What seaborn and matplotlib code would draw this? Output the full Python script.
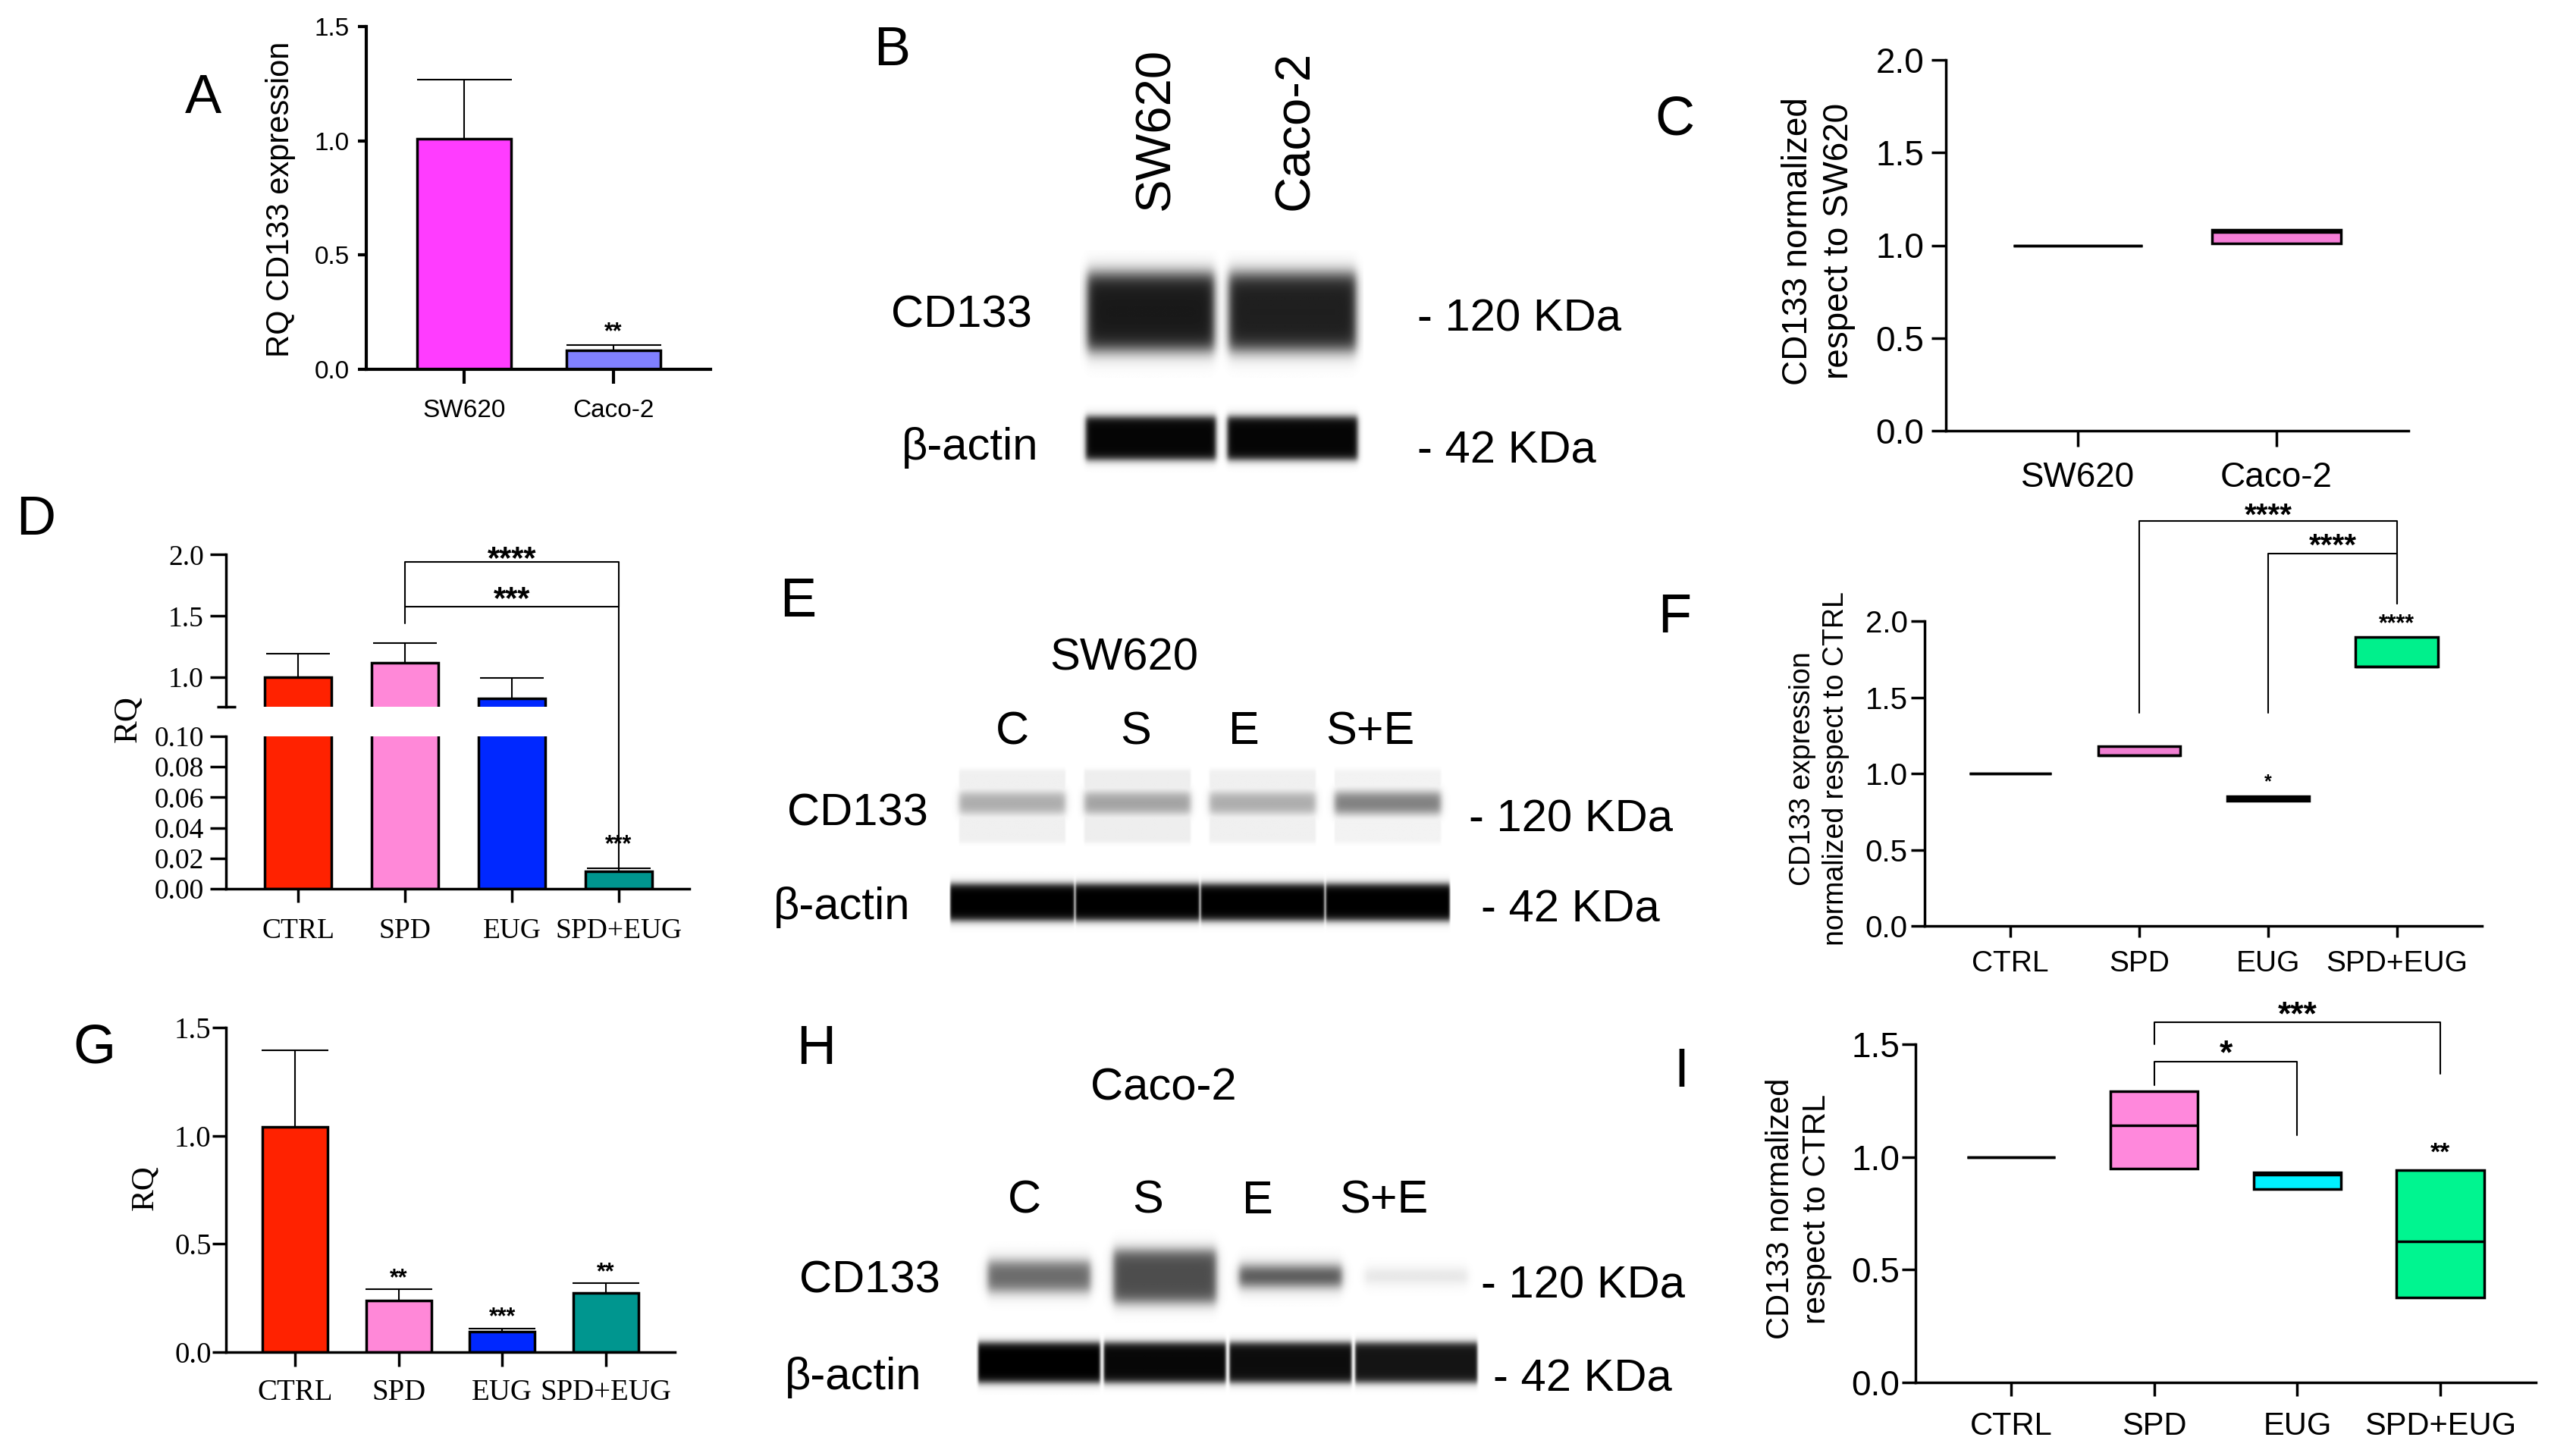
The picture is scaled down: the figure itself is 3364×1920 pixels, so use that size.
import numpy as np
import pandas as pd
import matplotlib
matplotlib.use("Agg")
import matplotlib.pyplot as plt
from matplotlib.colors import LinearSegmentedColormap
from matplotlib.patches import ConnectionPatch
from matplotlib.ticker import FormatStrFormatter
import seaborn as sns

# ---- values ----
lines = ["SW620", "Caco-2"]
a_rq = [1.01, 0.083]
a_top = [1.268, 0.106]          # top of SD bar
a_colors = ["#ff3cff", "#8080ff"]
a_sig = ["", "**"]

groups = ["CTRL", "SPD", "EUG", "SPD+EUG"]
bar_colors = ["#ff2200", "#ff88d8", "#0028ff", "#00968f"]

d_rq = [1.0, 1.12, 0.83, 0.0115]
d_top = [1.19, 1.28, 0.995, 0.0134]
d_sig = ["", "", "", "***"]

g_rq = [1.04, 0.24, 0.096, 0.273]
g_top = [1.395, 0.29, 0.11, 0.32]
g_sig = ["", "**", "***", "**"]

# floating bars: min, line, max
c_lo = [1.0, 1.01]
c_mid = [1.0, 1.07]
c_hi = [1.0, 1.085]
c_colors = ["white", "#f57fd8"]

f_lo = [1.0, 1.12, 0.82, 1.70]
f_mid = [1.0, 1.12, 0.835, 1.70]
f_hi = [1.0, 1.18, 0.85, 1.895]
f_colors = ["white", "#f07fd2", "#00e5f5", "#00f08c"]
f_sig = ["", "", "*", "****"]

i_lo = [1.0, 0.95, 0.856, 0.376]
i_mid = [1.0, 1.14, 0.92, 0.627]
i_hi = [1.0, 1.292, 0.93, 0.943]
i_colors = ["white", "#ff88dc", "#00f0ff", "#00f590"]
i_sig = ["", "", "", "**"]

# western blots: band darkness, 0 = white, 1 = black
b_cd133 = [0.90, 0.88]
b_actin = [0.98, 0.98]
lanes = ["C", "S", "E", "S+E"]
e_bg = [0.06, 0.07, 0.06, 0.05]
e_cd133 = [0.34, 0.38, 0.34, 0.52]
e_actin = [1.0, 1.0, 1.0, 1.0]
h_cd133 = [0.60, 0.70, 0.74, 0.15]
h_actin = [1.0, 0.97, 0.95, 0.92]

# ---- layout ----
W, H, DPI = 3364, 1920, 100
SANS = "Liberation Sans"
SERIF = "Liberation Serif"

sns.set_style("ticks", rc={"axes.edgecolor": "black", "xtick.color": "black",
                           "ytick.color": "black", "text.color": "black"})
plt.rcParams["font.family"] = [SANS, "DejaVu Sans"]

fig = plt.figure(figsize=(W / DPI, H / DPI), dpi=DPI)


def box(x0, y0, x1, y1):
    return [x0 / W, 1 - y1 / H, (x1 - x0) / W, (y1 - y0) / H]


def ftext(x, y, s, fs, ha="center", family=SANS):
    # y = centre of the capitals, pixels from the top
    fig.text(x / W, 1 - (y + 0.36 * fs * DPI / 72) / H, s, fontsize=fs, ha=ha,
             va="baseline", family=family)


def ylab(x, y, s, fs, family=SANS, ls=1.3):
    fig.text(x / W, 1 - y / H, s, fontsize=fs, rotation=90, ha="center", va="center",
             multialignment="center", linespacing=ls, family=family)


def star(ax, x, y, s, fs, dy=0):
    if s:
        ax.annotate(s, (x, y), xytext=(0, dy - 0.58 * fs), textcoords="offset points",
                    ha="center", va="baseline", fontsize=fs, fontweight="bold",
                    family=SANS, annotation_clip=False)


def bracket(ax, x0, x1, y, y0, y1):
    ax.plot([x0, x0, x1, x1], [y0, y, y, y1], color="black", lw=1.5, clip_on=False)


def prism(ax, fs, xlen, ylen, xpad, ypad, family=SANS, lw=2.5):
    sns.despine(ax=ax)
    ax.spines["left"].set_linewidth(lw)
    ax.spines["bottom"].set_linewidth(lw)
    ax.tick_params(axis="y", length=ylen, width=lw, labelsize=fs[0], pad=ypad,
                   labelfontfamily=family)
    ax.tick_params(axis="x", length=xlen, width=lw, labelsize=fs[1], pad=xpad,
                   labelfontfamily=family)
    ax.set_xlabel("")
    ax.set_ylabel("")


def bars(ax, cats, vals, tops, colors, cap):
    sns.barplot(x=cats, y=vals, hue=cats, palette=colors, legend=False, width=0.63,
                edgecolor="black", linewidth=2.5, errorbar=None, saturation=1, ax=ax)
    n = len(vals)
    ax.errorbar(np.arange(n), vals, yerr=[np.zeros(n), np.subtract(tops, vals)],
                fmt="none", ecolor="black", elinewidth=1.5, capsize=cap, capthick=1.5)


def floating(ax, cats, lo, mid, hi, colors, width):
    # five values per group give quartiles at lo / hi and the median at mid
    df = pd.DataFrame({
        "group": np.repeat(cats, 5),
        "val": np.ravel(np.column_stack([lo, lo, mid, hi, hi])),
    })
    sns.boxplot(data=df, x="group", y="val", hue="group", palette=colors, legend=False,
                width=width, whis=0, showcaps=False, showfliers=False, linewidth=2.5,
                linecolor="black", saturation=1, ax=ax)


def soft(t, a, b, s):
    return 0.5 * (np.tanh((t - a) / s) - np.tanh((t - b) / s))


blot_cmap = LinearSegmentedColormap.from_list("blot", ["white", "black"])


def blot(ax, rows):
    n = len(rows[0][0])
    xs = np.linspace(-0.5, n - 0.5, 700)
    ys = np.linspace(0, 1, 350)
    img = np.zeros((ys.size, xs.size))
    for dark, yc, hgt, lw_, sx, sy in rows:
        hgt = np.broadcast_to(hgt, (n,))
        for i, v in enumerate(dark):
            vy = soft(ys, yc - hgt[i] / 2, yc + hgt[i] / 2, sy)
            vx = soft(xs, i - lw_ / 2, i + lw_ / 2, sx)
            img = np.maximum(img, v * np.outer(vy, vx))
    ax.imshow(img, cmap=blot_cmap, vmin=0, vmax=1, extent=(-0.5, n - 0.5, 1, 0),
              aspect="auto", interpolation="bilinear")
    ax.set_axis_off()


# ---- A ----
ax = fig.add_axes(box(483, 35, 937, 487))
bars(ax, lines, a_rq, a_top, a_colors, 45)
ax.set_xlim(-0.655, 1.65)
ax.set_ylim(0, 1.5)
ax.set_yticks([0, 0.5, 1.0, 1.5])
ax.yaxis.set_major_formatter(FormatStrFormatter("%.1f"))
prism(ax, (24, 24), 14, 8, 14, 8, lw=3)
for i, s in enumerate(a_sig):
    star(ax, i, a_top[i], s, 22, dy=19)
ylab(370, 263, "RQ CD133 expression", 30)

# ---- C ----
ax = fig.add_axes(box(2566, 79, 3176, 568))
floating(ax, lines, c_lo, c_mid, c_hi, c_colors, 0.65)
ax.set_xlim(-0.664, 1.664)
ax.set_ylim(0, 2.0)
ax.set_yticks([0, 0.5, 1.0, 1.5, 2.0])
ax.yaxis.set_major_formatter(FormatStrFormatter("%.1f"))
prism(ax, (33, 33), 15, 14, 14, 6.5)
ylab(2398, 318, "CD133 normalized\nrespect to SW620", 33, ls=1.3)

# ---- D (broken axis) ----
axt = fig.add_axes(box(298, 731.5, 909, 932))
axb = fig.add_axes(box(298, 971, 909, 1172))
for ax in (axt, axb):
    bars(ax, groups, d_rq, d_top, bar_colors, 30)
    ax.set_xlim(-0.674, 3.66)
    prism(ax, (27, 27), 13, 15, 15, 6, family=SERIF)
axt.set_ylim(0.76, 2.0)
axt.set_yticks([1.0, 1.5, 2.0])
axt.yaxis.set_major_formatter(FormatStrFormatter("%.1f"))
axt.set_yticks([0.76], minor=True)
axt.tick_params(axis="y", which="minor", direction="inout", length=18, width=2.5)
sns.despine(ax=axt, bottom=True)
axt.tick_params(axis="x", bottom=False, labelbottom=False)
axb.set_ylim(0, 0.10)
axb.set_yticks([0, 0.02, 0.04, 0.06, 0.08, 0.10])
axb.yaxis.set_major_formatter(FormatStrFormatter("%.2f"))
axb.set_yticks([0.10], minor=True)
axb.tick_params(axis="y", which="minor", direction="inout", length=18, width=2.5)
bracket(axt, 1, 3, 1.94, 1.577, 1.577)
axt.plot([1, 1, 3], [1.44, 1.577, 1.577], color="black", lw=1.5, clip_on=False)
fig.add_artist(ConnectionPatch(xyA=(3, 1.577), coordsA=axt.transData,
                               xyB=(3, d_top[3]), coordsB=axb.transData,
                               color="black", lw=1.5))
star(axt, 2, 2.04, "****", 30)
star(axt, 2, 1.71, "***", 30)
for i, s in enumerate(d_sig):
    star(axb, i, d_top[i], s, 22, dy=29)
ylab(169, 948, "RQ", 32, family=SERIF)

# ---- F ----
ax = fig.add_axes(box(2538, 819, 3273, 1221))
floating(ax, groups, f_lo, f_mid, f_hi, f_colors, 0.64)
ax.set_xlim(-0.665, 3.66)
ax.set_ylim(0, 2.0)
ax.set_yticks([0, 0.5, 1.0, 1.5, 2.0])
ax.yaxis.set_major_formatter(FormatStrFormatter("%.1f"))
prism(ax, (29, 28), 11, 13, 12, 3)
bracket(ax, 1, 3, 2.657, 1.40, 2.115)
bracket(ax, 2, 3, 2.443, 1.40, 2.115)
star(ax, 2, 2.75, "****", 29)
star(ax, 2.5, 2.55, "****", 29)
for i, s in enumerate(f_sig):
    star(ax, i, f_hi[i], s, 22 if len(s) > 1 else 18, dy=19)
ylab(2399, 1014, "CD133 expression\nnormalized respect to CTRL", 27, ls=1.28)

# ---- G ----
ax = fig.add_axes(box(298, 1355, 890, 1783))
bars(ax, groups, g_rq, g_top, bar_colors, 32)
ax.set_xlim(-0.666, 3.666)
ax.set_ylim(0, 1.5)
ax.set_yticks([0, 0.5, 1.0, 1.5])
ax.yaxis.set_major_formatter(FormatStrFormatter("%.1f"))
prism(ax, (28, 28), 14, 13, 11.5, 1, family=SERIF)
for i, s in enumerate(g_sig):
    star(ax, i, g_top[i], s, 22, dy=17)
ylab(191, 1566, "RQ", 31, family=SERIF)

# ---- I ----
ax = fig.add_axes(box(2526, 1377, 3344, 1823))
floating(ax, groups, i_lo, i_mid, i_hi, i_colors, 0.61)
ax.set_xlim(-0.668, 3.668)
ax.set_ylim(0, 1.5)
ax.set_yticks([0, 0.5, 1.0, 1.5])
ax.yaxis.set_major_formatter(FormatStrFormatter("%.1f"))
prism(ax, (33, 30), 13, 13, 14, 2)
bracket(ax, 1, 3, 1.597, 1.50, 1.37)
bracket(ax, 1, 2, 1.423, 1.32, 1.096)
star(ax, 2, 1.673, "***", 32)
star(ax, 1.5, 1.50, "*", 32)
for i, s in enumerate(i_sig):
    star(ax, i, i_hi[i], s, 24, dy=23)
ylab(2372, 1594, "CD133 normalized\nrespect to CTRL", 30, ls=1.27)

# ---- B blot ----
ax = fig.add_axes(box(1424, 330, 1798, 630))
blot(ax, [(b_cd133, 0.27, 0.34, 0.90, 0.035, 0.045),
          (b_actin, 0.827, 0.19, 0.92, 0.02, 0.02)])
for x, s in zip([1524, 1708], lines):
    fig.text(x / W, 1 - 277 / H, s, fontsize=47, rotation=90, ha="center", va="bottom")
ftext(1268, 410, "CD133", 43)
ftext(1279, 585, "β-actin", 43)
ftext(1869, 415, "- 120 KDa", 43, ha="left")
ftext(1869, 589, "- 42 KDa", 43, ha="left")

# ---- E blot ----
ax = fig.add_axes(box(1252, 1000, 1913, 1230))
blot(ax, [(e_bg, 0.274, 0.42, 0.85, 0.008, 0.015),
          (e_cd133, 0.255, 0.12, 0.85, 0.03, 0.035),
          (e_actin, 0.826, 0.21, 0.99, 0.01, 0.025)])
ftext(1482, 862, "SW620", 43)
for x, s in zip([1335, 1498, 1640, 1807], lanes):
    ftext(x, 959, s, 44)
ftext(1131, 1067, "CD133", 43)
ftext(1110, 1190, "β-actin", 43)
ftext(1937, 1075, "- 120 KDa", 43, ha="left")
ftext(1953, 1194, "- 42 KDa", 43, ha="left")

# ---- H blot ----
ax = fig.add_axes(box(1287, 1610, 1951, 1840))
blot(ax, [(h_cd133, 0.317, [0.17, 0.30, 0.11, 0.06], 0.82, 0.035, 0.045),
          (h_actin, 0.813, 0.23, 0.97, 0.012, 0.025)])
ftext(1534, 1429, "Caco-2", 43)
for x, s in zip([1351, 1514, 1658, 1825], lanes):
    ftext(x, 1578, s, 44)
ftext(1147, 1683, "CD133", 43)
ftext(1125, 1810, "β-actin", 43)
ftext(1953, 1690, "- 120 KDa", 43, ha="left")
ftext(1969, 1813, "- 42 KDa", 43, ha="left")

# ---- panel letters ----
for s, x, y in [("A", 268, 123), ("B", 1176, 60), ("C", 2208, 151),
                ("D", 47, 679), ("E", 1052, 787), ("F", 2208, 808),
                ("G", 124, 1375), ("H", 1076, 1377), ("I", 2217, 1407)]:
    ftext(x, y, s, 52)

fig.savefig("out.png", dpi=DPI, facecolor="white")
